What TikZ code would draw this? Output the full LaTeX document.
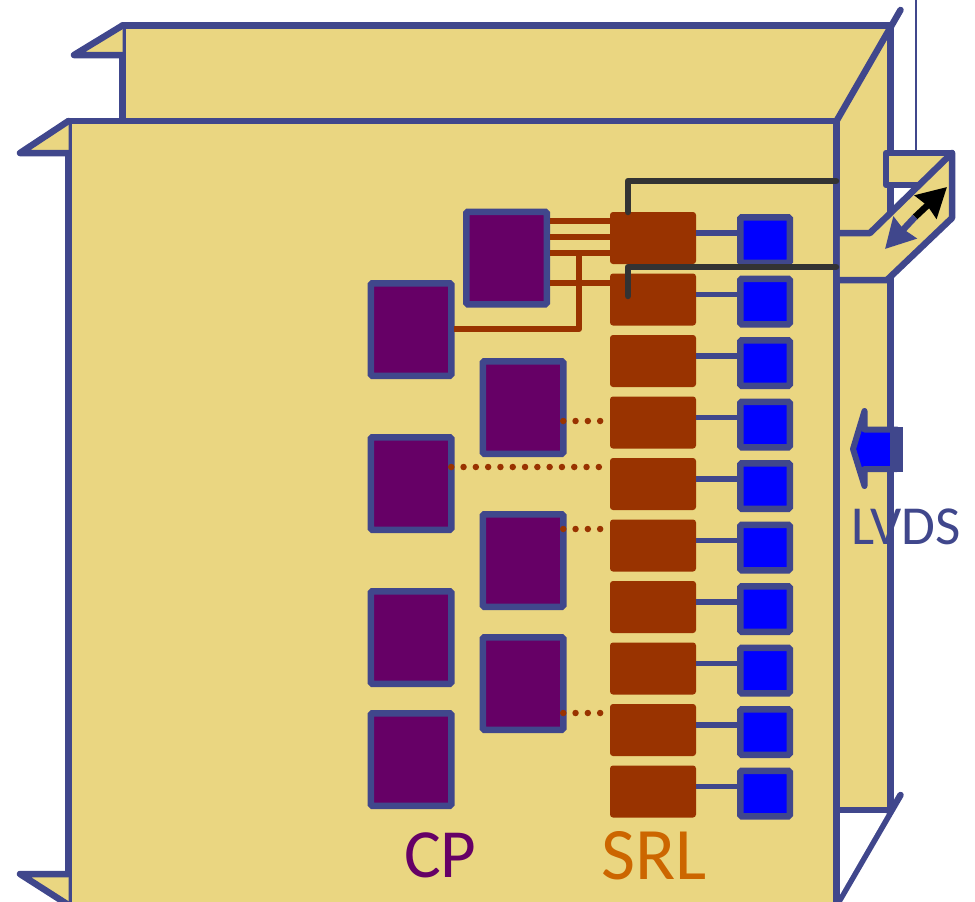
\documentclass[tikz,border=0pt]{standalone}
\usepackage{fontspec}
\setmainfont{Carlito}
\usetikzlibrary{arrows.meta}
\definecolor{panelyellow}{HTML}{EAD681}
\definecolor{edgeblue}{HTML}{40478C}
\definecolor{cppurple}{HTML}{660066}
\definecolor{srlbrown}{HTML}{993300}
\definecolor{srlorange}{HTML}{CC6600}
\definecolor{wiregrey}{HTML}{333333}
\tikzstyle{panel}   = [draw=edgeblue, fill=panelyellow, line width=6.5pt, line join=round, line cap=round]
\tikzstyle{edgeline}= [draw=edgeblue, line width=6.5pt, line join=round, line cap=round]
\tikzstyle{cpbox}   = [rectangle, rounded corners=1.5pt, minimum width=80.5pt, minimum height=92.5pt, inner sep=0pt, outer sep=3pt, draw=edgeblue, line width=6.5pt, fill=cppurple]
\tikzstyle{srlbox}  = [rectangle, rounded corners=3pt, minimum width=86pt, minimum height=52pt, inner sep=0pt, outer sep=0pt, fill=srlbrown]
\tikzstyle{portbox} = [rectangle, rounded corners=1.5pt, minimum width=49.5pt, minimum height=45.5pt, inner sep=0pt, outer sep=3pt, draw=edgeblue, line width=6.5pt, fill=blue]
\tikzstyle{wire}    = [draw=srlbrown, line width=6pt, line join=round]
\tikzstyle{dotwire} = [draw=srlbrown, line width=6.5pt, line cap=round, dash pattern=on 0pt off 12.3pt]
\tikzstyle{portwire}= [draw=edgeblue, line width=5.5pt]
\tikzstyle{ctrlwire}= [draw=wiregrey, line width=6.5pt, line join=round, line cap=round]
\begin{document}
\begin{tikzpicture}[x=1pt, y=-1pt, node distance=61.5pt]
      \clip (0,0) rectangle (975,902);
      % Panels
      %% Back panel
      \path [panel] (122.5,25.5) -- (890.5,25.5) -- (890.5,810) -- (122.5,810) -- cycle;
      \path [panel] (122.5,25.5) -- (74,55) -- (122.5,55);
      \draw [edgeline] (900.5,10) -- (836.5,121);
      \draw [edgeline] (900.5,795) -- (836.5,905);
      \fill [white] (839.8,813.3) -- (887,813.3) -- (839.8,895) -- cycle;
      %% Front panel
      \path [panel] (68.5,121) -- (836.5,121) -- (836.5,930) -- (68.5,930) -- cycle;
      \path [panel] (68.5,121) -- (20,153) -- (68.5,153);
      \path [panel] (68.5,905) -- (20,874) -- (68.5,874);
      %% Fold on the right
      \coordinate (feed_top) at (916,-5);
      \coordinate (feed_end) at (916,153);
      \draw [draw=edgeblue, line width=2pt] (feed_top) -- (feed_end);
      \path [panel] (886,153) -- (952,153) -- (952,185) -- (886,185) -- cycle;
      \fill [panelyellow] (839.8,233) -- (870,233) -- (952,153) -- (952,218) -- (887,280) -- (839.8,280) -- cycle;
      \draw [edgeline] (836.5,233) -- (870,233) -- (952,153) -- (952,218) -- (887,280) -- (836.5,280);

      % Nodes
      %% CP
      \node (cp_top)   [cpbox] at (506.5,258) {};
      \node (cp_left1) [cpbox] at (411,329.5) {};
      \node (cp_left2) [cpbox, below of=cp_left1, node distance=154pt] {};
      \node (cp_left3) [cpbox, below of=cp_left2, node distance=154pt] {};
      \node (cp_left4) [cpbox, below of=cp_left3, node distance=122pt] {};
      \node (cp_mid1)  [cpbox] at (523,407.5) {};
      \node (cp_mid2)  [cpbox, below of=cp_mid1, node distance=153pt] {};
      \node (cp_mid3)  [cpbox, below of=cp_mid2, node distance=123pt] {};
      %% SRL
      \node (srl1)  [srlbox] at (653,238) {};
      \node (srl2)  [srlbox, below of=srl1] {};
      \node (srl3)  [srlbox, below of=srl2] {};
      \node (srl4)  [srlbox, below of=srl3] {};
      \node (srl5)  [srlbox, below of=srl4] {};
      \node (srl6)  [srlbox, below of=srl5] {};
      \node (srl7)  [srlbox, below of=srl6] {};
      \node (srl8)  [srlbox, below of=srl7] {};
      \node (srl9)  [srlbox, below of=srl8] {};
      \node (srl10) [srlbox, below of=srl9] {};
      %% Ports
      \node (port1)  [portbox] at (765,240) {};
      \node (port2)  [portbox, below of=port1] {};
      \node (port3)  [portbox, below of=port2] {};
      \node (port4)  [portbox, below of=port3] {};
      \node (port5)  [portbox, below of=port4] {};
      \node (port6)  [portbox, below of=port5] {};
      \node (port7)  [portbox, below of=port6] {};
      \node (port8)  [portbox, below of=port7] {};
      \node (port9)  [portbox, below of=port8] {};
      \node (port10) [portbox, below of=port9] {};

      % Connectors
      \foreach \i in {1,...,10}
        \draw [portwire] ([yshift=5pt]srl\i.east) -- ([yshift=5pt]srl\i.east -| port\i.west);
      \draw [wire] (cp_top.east |- 0,221) -- (srl1.west |- 0,221);
      \draw [wire] (cp_top.east |- 0,237) -- (srl1.west |- 0,237);
      \draw [wire] (cp_top.east |- 0,253) -- (srl1.west |- 0,253);
      \draw [wire] (cp_top.east |- 0,283) -- (srl2.west |- 0,283);
      \coordinate (tap) at (579,250.5);
      \draw [wire] (cp_left1.east |- 0,329) -| (tap);
      \draw [dotwire] ([xshift=-3pt]cp_mid1.east |- 0,421) -- ++(38,0);
      \draw [dotwire] ([xshift=-3pt]cp_left2.east |- 0,467) -- (srl5.west |- 0,467);
      \draw [dotwire] ([xshift=-3pt]cp_mid2.east |- 0,529) -- ++(38,0);
      \draw [dotwire] ([xshift=-3pt]cp_mid3.east |- 0,713) -- ++(38,0);
      \coordinate (ctrl1) at (628,212);
      \coordinate (ctrl2) at (628,296);
      \draw [ctrlwire] (ctrl1) |- (836,181);
      \draw [ctrlwire] (ctrl2) |- (836,267);

      % Double arrow in the fold
      \coordinate (arrow_mid) at (915,217);
      \coordinate (arrow_black) at (947,187);
      \coordinate (arrow_blue) at (885,249);
      \draw [black, line width=6.5pt, -{Stealth[inset=2pt, length=29pt, width=31pt]}] (arrow_mid) -- (arrow_black);
      \draw [edgeblue, line width=6.5pt, -{Stealth[inset=2pt, length=29pt, width=31pt]}] (arrow_mid) -- (arrow_blue);

      % LVDS arrow
      \path [draw=edgeblue, fill=blue, line width=6pt, line join=round, line cap=round] (853,449) -- (864.5,411) -- (864.5,429.5) -- (897,429.5) -- (897,469) -- (864.5,469) -- (864.5,486) -- cycle;
      \fill [edgeblue] (890,426.5) rectangle (903,472);

      % Labels
      \node (cp_label)   [anchor=base west, inner sep=0pt, text=cppurple]  at (404,877) {\fontsize{69}{75}\selectfont CP};
      \node (srl_label)  [anchor=base west, inner sep=0pt, text=srlorange] at (601,879) {\fontsize{74}{80}\selectfont SRL};
      \node (lvds_label) [anchor=base west, inner sep=0pt, text=edgeblue]  at (851,544) {\fontsize{55}{60}\selectfont LVDS};
    \end{tikzpicture}
\end{document}
